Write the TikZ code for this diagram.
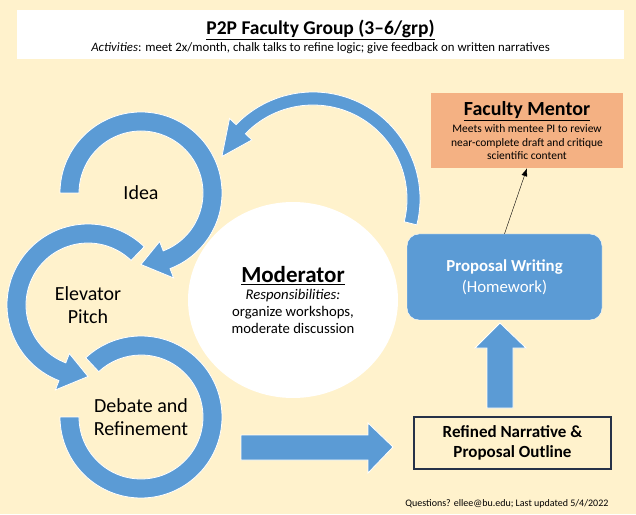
\documentclass[tikz,border=0pt]{standalone}
\usepackage{fontspec}
\setmainfont{Carlito}
\usetikzlibrary{arrows.meta,shapes.geometric}

\definecolor{cream}{HTML}{FFF2CC}
\definecolor{ringblue}{HTML}{5B9BD5}
\definecolor{mentorfill}{HTML}{F4B183}
\definecolor{boxline}{HTML}{263248}

\begin{document}
\begin{tikzpicture}[x=1pt,y=1pt,
    ring/.style={fill=ringblue,draw=white,line width=0.8pt},
    stage/.style={align=center,font=\fontsize{20}{23}\selectfont}]
  \fill[cream] (0,0) rectangle (636,514);
  % title bar
  \node[fill=white,minimum width=607pt,minimum height=49pt,align=center] (title) at (320.5,479.5) {};
  \node[align=center] (titletext) at (320.5,477.5)
    {{\fontsize{19.5}{22}\selectfont\bfseries\underline{P2P Faculty Group (3–6/grp)}}\\[2pt]
     {\fontsize{12.8}{14}\selectfont\textit{Activities}: meet 2x/month, chalk talks to refine logic; give feedback on written narratives}};
  % centres of the rings
  \coordinate (c1) at (141,321);
  \coordinate (c2) at (88,209);
  \coordinate (c3) at (141,97);
  \coordinate (c4) at (313,315);
  % rings
  \draw[ring,shift={(c3)}] (133:81) arc[start angle=133,end angle=-180,radius=81] -- (180:62) arc[start angle=180,end angle=493,radius=62] -- cycle;
  \draw[ring,shift={(c2)}] (46:81) arc[start angle=46,end angle=249,radius=81] -- (249:91) -- (270:71.5) -- (249:52) -- (249:62) arc[start angle=249,end angle=46,radius=62] -- cycle;
  \draw[ring,shift={(c1)}] (180:81) arc[start angle=180,end angle=-69,radius=81] -- (-69:91) -- (-90:71.5) -- (-69:52) -- (-69:62) arc[start angle=-69,end angle=180,radius=62] -- cycle;
  \draw[ring,shift={(c4)}] (-14:107) arc[start angle=-14,end angle=136,radius=107] -- (136:116) -- (155:100.5) -- (136:85) -- (136:94) arc[start angle=136,end angle=-14,radius=94] -- cycle;
  \node[stage] (idea) at (c1) {Idea};
  \node[stage] (pitch) at (c2) {Elevator\\Pitch};
  \node[stage] (debate) at (c3) {Debate and\\Refinement};
  % moderator
  \node[ellipse,fill=white,minimum width=210pt,minimum height=196pt,align=center,inner sep=0pt,
    font=\fontsize{14.7}{17}\selectfont] (moderator) at (293,214)
    {{\fontsize{23}{25}\selectfont\bfseries\underline{Moderator}}\\
     \textit{Responsibilities:}\\organize workshops,\\moderate discussion};
  % boxes on the right
  \node[fill=mentorfill,minimum width=192pt,minimum height=75pt,align=center,
    font=\fontsize{11.5}{13.5}\selectfont] (mentor) at (527,383.5)
    {{\fontsize{20}{20}\selectfont\bfseries\underline{Faculty Mentor}}\\[4pt]
     Meets with mentee PI to review\\near-complete draft and critique\\scientific content};
  \node[fill=ringblue,draw=white,rounded corners=12pt,minimum width=195pt,minimum height=86pt,
    text=white,align=center,font=\fontsize{16.8}{21}\selectfont] (writing) at (504.5,237)
    {\textbf{Proposal Writing}\\(Homework)};
  \node[draw=boxline,line width=1.2pt,fill=cream,minimum width=197pt,minimum height=52pt,
    align=center,font=\bfseries\fontsize{17}{20}\selectfont] (outline) at (512.5,71)
    {Refined Narrative \&\\Proposal Outline};
  \draw[-{Latex[length=8pt,width=6pt]}] (writing.north) -- (mentor.south);
  % block arrows
  \draw[ring] (241,54) -- (368,54) -- (368,41) -- (393,67) -- (368,91) -- (368,79) -- (241,79) -- cycle;
  \draw[ring] (487,106) -- (487,166) -- (475,166) -- (500,191) -- (526,166) -- (513,166) -- (513,106) -- cycle;
  \node[anchor=east,font=\fontsize{10}{12}\selectfont] (footer) at (612,10)
    {Questions? ellee@bu.edu; Last updated 5/4/2022};
\end{tikzpicture}
\end{document}
